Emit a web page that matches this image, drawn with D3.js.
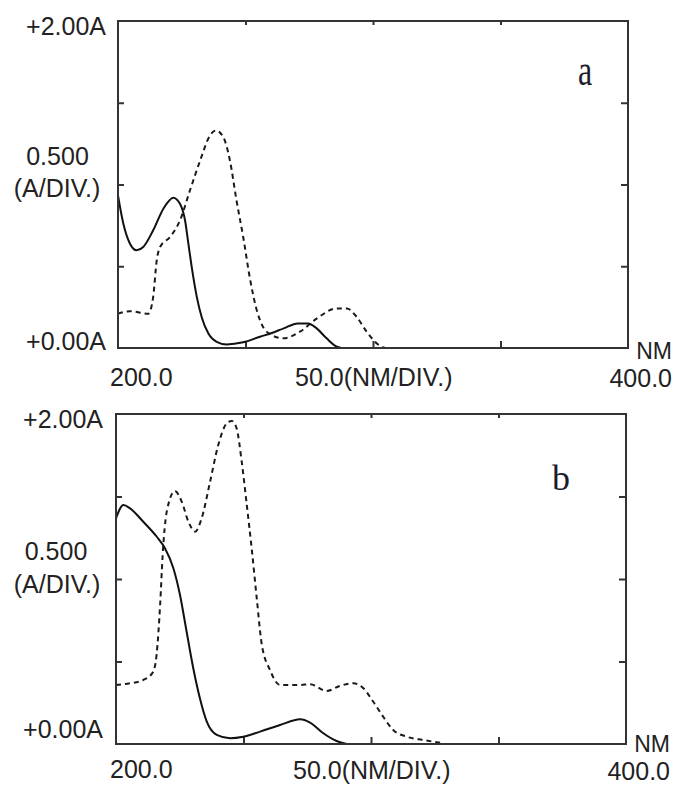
<!DOCTYPE html>
<html>
<head>
<meta charset="utf-8">
<script src="https://cdn.jsdelivr.net/npm/d3@7/dist/d3.min.js"></script>
<style>
  html, body { margin: 0; padding: 0; background: #fff; }
  svg { display: block; }
  text { font-family: "Liberation Sans", Arial, sans-serif; fill: #222; }
</style>
</head>
<body>
<svg id="chart" width="677" height="787"></svg>
<script>
// ---- Data (wavelength nm, absorbance A) ----
const xDomain = [200, 400];
const yDomain = [0, 2];
const xTickValues = [250, 300, 350];
const yTickValues = [0.5, 1.0, 1.5];

// Panel a
const aSolidNm = [200, 202.1, 204.7, 207.3, 209.9, 213.8, 217.8, 221.7, 224.3, 226.3, 227.6, 228.9, 230.9, 232.8, 235.4, 238.7, 242.6, 249.1, 255.7, 260, 265, 270.5, 274.5, 277.9, 281.8, 285.8, 287.5];
const aSolidA  = [0.933, 0.76, 0.638, 0.598, 0.618, 0.72, 0.852, 0.919, 0.882, 0.78, 0.638, 0.496, 0.313, 0.19, 0.09, 0.038, 0.022, 0.035, 0.069, 0.09, 0.12, 0.15, 0.15, 0.12, 0.059, 0.008, 0.0];
const aDashNm  = [200, 204.7, 211.9, 213.8, 215.2, 216.5, 220.4, 224.3, 228.2, 232.2, 236.1, 238.4, 241.3, 243.9, 246.5, 249.1, 251.8, 254.4, 256.5, 259.6, 264.8, 271.4, 277.9, 285.8, 289.7, 293.6, 297.5, 301.5, 304.7];
const aDashA   = [0.21, 0.225, 0.21, 0.313, 0.537, 0.618, 0.679, 0.78, 0.963, 1.146, 1.30, 1.33, 1.29, 1.146, 0.90, 0.679, 0.42, 0.232, 0.14, 0.085, 0.059, 0.1, 0.18, 0.242, 0.242, 0.19, 0.1, 0.028, 0.0];

// Panel b
const bSolidNm = [200, 202.9, 205.5, 210.7, 216, 219.2, 222.5, 225.1, 227.7, 230.3, 232.9, 235.6, 239.5, 244.7, 249.9, 256.5, 264.3, 272.2, 276.1, 281.3, 286.5, 290.5];
const bSolidA  = [1.368, 1.448, 1.428, 1.347, 1.256, 1.186, 1.065, 0.903, 0.68, 0.459, 0.277, 0.135, 0.055, 0.035, 0.044, 0.075, 0.115, 0.15, 0.13, 0.065, 0.018, 0.0];
const bDashNm  = [200, 205.5, 210.7, 214.6, 215.9, 217.3, 218.3, 219.9, 223.1, 225.8, 228.4, 231, 233.6, 236.9, 240.1, 243.4, 245.4, 247.3, 249.3, 251.3, 253.2, 255.2, 257.1, 260.4, 264.3, 272.2, 276.1, 282.6, 287.8, 293.1, 297, 300.9, 304.8, 308.7, 314, 320.5, 327.1];
const bDashA   = [0.358, 0.368, 0.388, 0.438, 0.539, 0.842, 1.145, 1.408, 1.533, 1.468, 1.347, 1.287, 1.368, 1.59, 1.812, 1.943, 1.958, 1.913, 1.711, 1.448, 1.186, 0.883, 0.61, 0.448, 0.358, 0.358, 0.362, 0.321, 0.352, 0.368, 0.338, 0.256, 0.165, 0.085, 0.044, 0.024, 0.008];

// Text labels
const yTopLabel = "+2.00A";
const yBottomLabel = "+0.00A";
const yScaleLabel = ["0.500", "(A/DIV.)"];
const xLabels = ["200.0", "50.0(NM/DIV.)", "400.0"];
const xUnit = "NM";
const panelNames = ["a", "b"];

// ---- Layout ----
const panels = [
  { name: panelNames[0], solid: [aSolidNm, aSolidA], dash: [aDashNm, aDashA],
    frame: { l: 118, t: 21, r: 628, b: 348 },
    txt: { top: [106, 35], s1: [57.5, 165], s2: [57, 197], bot: [106, 350],
           x0: [110, 386], xm: [295, 386], x1: [672, 387], nm: [672, 359], tag: [578, 85], tagScale: 1.4 } },
  { name: panelNames[1], solid: [bSolidNm, bSolidA], dash: [bDashNm, bDashA],
    frame: { l: 116, t: 414, r: 626, b: 744 },
    txt: { top: [103, 428], s1: [56, 560], s2: [57, 593], bot: [103, 738],
           x0: [110, 778], xm: [293, 779], x1: [670, 780], nm: [670, 752], tag: [552, 490], tagScale: 1.0 } }
];

const svg = d3.select("#chart");
const FS = 25;

panels.forEach(p => {
  const f = p.frame;
  const x = d3.scaleLinear().domain(xDomain).range([f.l, f.r]);
  const y = d3.scaleLinear().domain(yDomain).range([f.b, f.t]);
  const g = svg.append("g");

  // ticks (inward) via d3 axes
  const tickStyle = sel => { sel.select(".domain").remove(); sel.selectAll("line").attr("stroke", "#333").attr("stroke-width", 2); };
  g.append("g").attr("transform", `translate(0,${f.b})`)
    .call(d3.axisBottom(x).tickValues(xTickValues).tickSize(-7).tickFormat("")).call(tickStyle);
  g.append("g").attr("transform", `translate(0,${f.t})`)
    .call(d3.axisTop(x).tickValues(xTickValues).tickSize(-4).tickFormat("")).call(tickStyle);
  g.append("g").attr("transform", `translate(${f.l},0)`)
    .call(d3.axisLeft(y).tickValues(yTickValues).tickSize(-6).tickFormat("")).call(tickStyle);
  g.append("g").attr("transform", `translate(${f.r},0)`)
    .call(d3.axisRight(y).tickValues(yTickValues).tickSize(-7).tickFormat("")).call(tickStyle);

  // curves
  const line = d3.line().x(d => x(d[0])).y(d => y(d[1])).curve(d3.curveMonotoneX);
  const solidPts = p.solid[0].map((v, i) => [v, p.solid[1][i]]);
  const dashPts = p.dash[0].map((v, i) => [v, p.dash[1][i]]);
  g.append("path").attr("d", line(dashPts)).attr("fill", "none")
    .attr("stroke", "#1a1a1a").attr("stroke-width", 2).attr("stroke-dasharray", "5,4");
  g.append("path").attr("d", line(solidPts)).attr("fill", "none")
    .attr("stroke", "#111").attr("stroke-width", 2);

  // frame
  g.append("rect").attr("x", f.l).attr("y", f.t).attr("width", f.r - f.l).attr("height", f.b - f.t)
    .attr("fill", "none").attr("stroke", "#333").attr("stroke-width", 2);

  // labels
  const t = p.txt;
  const txt = (pos, s, anchor, fs) => g.append("text").attr("x", pos[0]).attr("y", pos[1])
    .attr("text-anchor", anchor).attr("font-size", fs || FS).text(s);
  txt(t.top, yTopLabel, "end");
  txt(t.s1, yScaleLabel[0], "middle");
  txt(t.s2, yScaleLabel[1], "middle");
  txt(t.bot, yBottomLabel, "end");
  txt(t.x0, xLabels[0], "start");
  txt(t.xm, xLabels[1], "start");
  txt(t.x1, xLabels[2], "end");
  txt(t.nm, xUnit, "end", 23);
  g.append("text").attr("transform", `translate(${t.tag[0]},${t.tag[1]}) scale(1,${t.tagScale})`)
    .style("font-family", "'Liberation Serif', 'Times New Roman', serif")
    .style("fill", "#1c1c2a")
    .attr("font-size", p.name === "a" ? 32 : 36).text(p.name);
});
</script>
</body>
</html>
